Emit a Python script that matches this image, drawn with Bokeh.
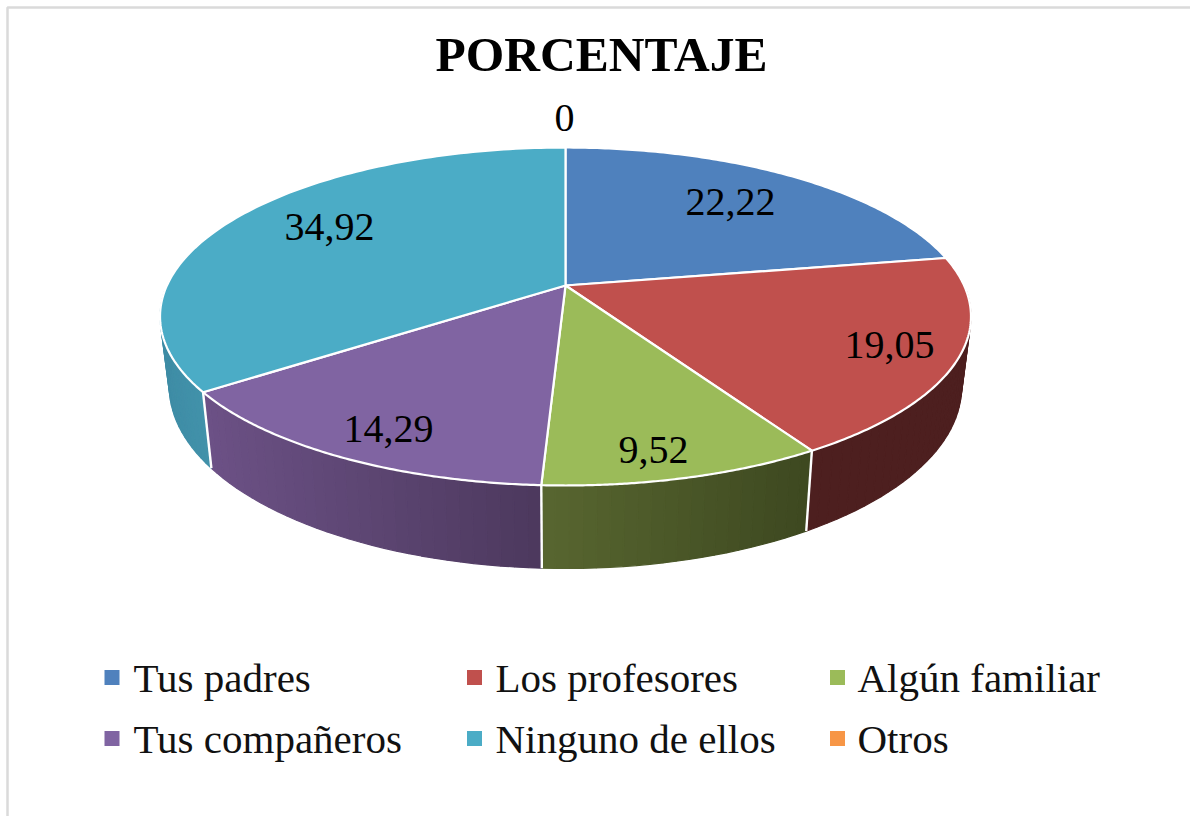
import numpy as np
from bokeh.embed import file_html
from bokeh.resources import INLINE
from bokeh.models import Range1d
from bokeh.plotting import figure
from bokeh.core.properties import value

# ---- data ----
categories = ["Tus padres", "Los profesores", "Algún familiar",
              "Tus compañeros", "Ninguno de ellos", "Otros"]
percent = [22.22, 19.05, 9.52, 14.29, 34.92, 0.0]
labels = ["22,22", "19,05", "9,52", "14,29", "34,92", "0"]
title_text = "PORCENTAJE"
colors = ["#4F81BD", "#C0504D", "#9BBB59", "#8064A2", "#4BACC6", "#F79646"]
side_left = {1: (77, 31, 31), 2: (88, 102, 48), 3: (108, 81, 134), 4: (62, 140, 165)}
side_right = {1: (77, 31, 31), 2: (61, 72, 32), 3: (76, 57, 93), 4: (66, 146, 170)}

# ---- perspective of the pie, in page pixels ----
CX, CY = 565.0, 285.0
K, F, E = 398.6, 163.3, 0.1834


def rim(deg):
    a = np.radians(deg)
    u, v = np.sin(a), np.cos(a)
    d = 1 + E * v
    return CX + K * u / d, CY - F * v / d


def lower(x, y):
    return CX + (x - CX) * 0.977, y + 83 + 0.075 * (y - 485)


p = figure(width=1190, height=816, x_range=Range1d(0, 1190), y_range=Range1d(816, 0),
           output_backend="svg", toolbar_location=None, min_border=0)
p.axis.visible = False
p.grid.visible = False
p.outline_line_color = None
p.background_fill_color = "white"
p.border_fill_color = "white"

# frame of the picture: only its top and left sides show
p.line([7, 7, 1190], [816, 7, 7], line_color="#DADADA", line_width=2.5)

total = sum(percent)
edges = np.concatenate([[0], np.cumsum(percent)]) / total * 360

# side wall: thin quads so the shade can vary along the rim
limits = {1: (92, edges[2]), 2: (edges[2], edges[3]), 3: (edges[3], edges[4]), 4: (edges[4], 268)}
qx, qy, qc = [], [], []
for i, (a0, a1) in limits.items():
    n = 2 + int((a1 - a0) * 0.6)
    steps = np.linspace(a0, a1, n)
    tx, ty = rim(steps)
    bx, by = lower(tx, ty)
    xmin, xmax = tx.min(), tx.max()
    for j in range(len(steps) - 1):
        t = ((tx[j] + tx[j + 1]) / 2 - xmin) / (xmax - xmin)
        c = tuple(int(round(l + (r - l) * t)) for l, r in zip(side_left[i], side_right[i]))
        qx.append([tx[j], tx[j + 1], bx[j + 1], bx[j]])
        qy.append([ty[j], ty[j + 1], by[j + 1], by[j]])
        qc.append("#%02x%02x%02x" % c)
p.patches(qx, qy, fill_color=qc, line_color=qc, line_width=1.2)

# white edges between the side walls
for a in [edges[2], edges[3], edges[4]]:
    tx, ty = rim(a)
    bx, by = lower(tx, ty)
    p.line([tx, bx], [ty, by], line_color="white", line_width=2.4)

# top face
for i in range(5):
    steps = np.linspace(edges[i], edges[i + 1], 120)
    tx, ty = rim(steps)
    p.patch(np.r_[CX, tx], np.r_[CY, ty], fill_color=colors[i],
            line_color="white", line_width=2.2, line_join="round")

# value labels
lx = [730, 889, 653, 388, 329, 564]
ly = [201, 344, 449, 428, 226, 117]
p.text(lx, ly, text=labels, text_font=value("Liberation Serif"), text_font_size="40px",
       text_align="center", text_baseline="middle", text_color="black")

p.text([601], [54], text=[title_text], text_font=value("Liberation Serif"), text_font_size="49.5px",
       text_font_style="bold", text_align="center", text_baseline="middle", text_color="black")

# legend
mx = [111.5, 474, 837, 111.5, 474, 837]
my = [677, 677, 677, 738, 738, 738]
p.scatter(mx, my, marker="square", size=15, fill_color=colors, line_color=None)
tx = [133, 495, 857, 133, 495, 857]
p.text(tx, my, text=categories, text_font=value("Liberation Serif"), text_font_size="41px",
       text_align="left", text_baseline="middle", text_color="#111111")

open("out.html", "w").write(file_html(p, INLINE))
